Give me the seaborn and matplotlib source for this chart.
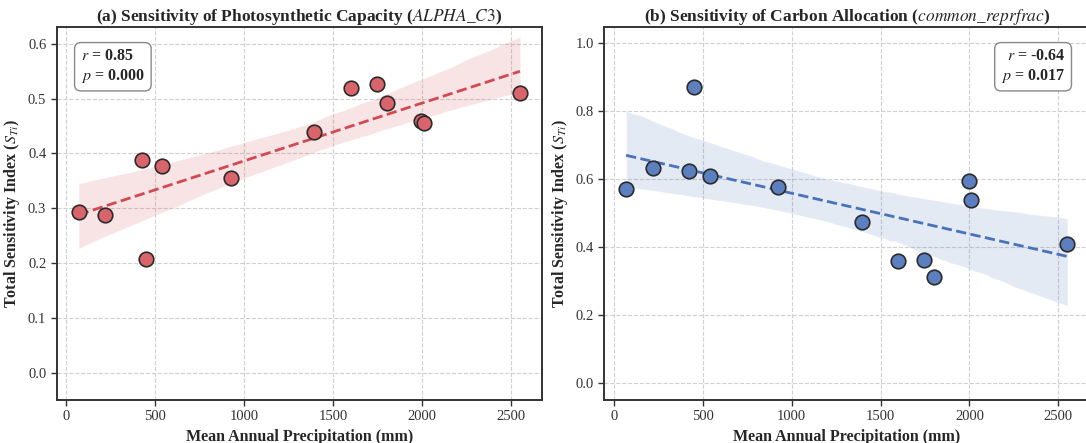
import numpy as np
import pandas as pd
import matplotlib
matplotlib.use("Agg")
import matplotlib.pyplot as plt
import seaborn as sns

# ==========================
# DATA
# ==========================

precip = [70, 220, 425, 450, 540, 925, 1395, 1600, 1745, 1800, 1995, 2010, 2550]

alpha_c3 = [0.293, 0.287, 0.389, 0.208, 0.377, 0.355, 0.440, 0.520, 0.526, 0.492, 0.460, 0.455, 0.510]

reprfrac = [0.570, 0.633, 0.622, 0.870, 0.608, 0.575, 0.473, 0.358, 0.362, 0.312, 0.594, 0.538, 0.410]

stats_a = ("0.85", "0.000")
stats_b = ("-0.64", "0.017")

titles = [
    r"(a) Sensitivity of Photosynthetic Capacity ($\mathit{ALPHA\_C3}$)",
    r"(b) Sensitivity of Carbon Allocation ($\mathit{common\_reprfrac}$)",
]


# ==========================
# STYLE
# ==========================

sns.set_style("white")
plt.rcParams["font.family"] = ["Liberation Serif", "DejaVu Serif"]
plt.rcParams["mathtext.fontset"] = "stix"

df = pd.DataFrame({"precip": precip, "alpha": alpha_c3, "repr": reprfrac})

fig = plt.figure(figsize=(10.86, 4.43), dpi=100)
ax1 = fig.add_axes([0.0522, 0.097, 0.4469, 0.841])
ax2 = fig.add_axes([0.5562, 0.097, 0.4469, 0.841])

panels = [
    (ax1, "alpha", "#d9646b", "#d04a52", stats_a, (-0.05, 0.63), "left"),
    (ax2, "repr", "#5b7fbf", "#4a72b8", stats_b, (-0.05, 1.045), "right"),
]

for i, (ax, col, fc, lc, st, ylim, side) in enumerate(panels):

    sns.regplot(
        data=df, x="precip", y=col, ax=ax, scatter=False, ci=95, seed=3,
        color=lc, line_kws={"linestyle": "--", "linewidth": 2},
    )
    # lighten band
    for coll in ax.collections:
        coll.set_alpha(0.15)

    sns.scatterplot(
        data=df, x="precip", y=col, ax=ax, color=fc, s=110,
        edgecolor="#2b2b2b", linewidth=1.2, zorder=5,
    )

    ax.set_ylim(*ylim)
    ax.set_title(titles[i], fontsize=12.5, fontweight="bold", pad=5)
    ax.set_xlabel("Mean Annual Precipitation (mm)", fontsize=11.5, fontweight="bold")
    ax.set_ylabel(r"Total Sensitivity Index ($S_{Ti}$)", fontsize=11.5, fontweight="bold")
    ax.grid(True, linestyle="--", color="#d0d0d0", linewidth=0.8)
    ax.tick_params(axis="both", labelsize=10.5, length=4, width=1, direction="out",
                   bottom=True, left=True, colors="#333333")

    for s in ax.spines.values():
        s.set_color("#333333")
        s.set_linewidth(1.4)

    txt = r"$r$ = " + st[0] + "\n" + r"$p$ = " + st[1]
    if side == "left":
        x, ha = 0.05, "left"
    else:
        x, ha = 0.95, "right"
    ax.text(x, 0.945, txt, transform=ax.transAxes, ha=ha, va="top", multialignment=ha,
            fontsize=11.5, fontweight="bold", zorder=10,
            bbox=dict(boxstyle="round,pad=0.4", facecolor="white",
                      edgecolor="#888888", linewidth=1))

fig.savefig("out.png", dpi=100)
